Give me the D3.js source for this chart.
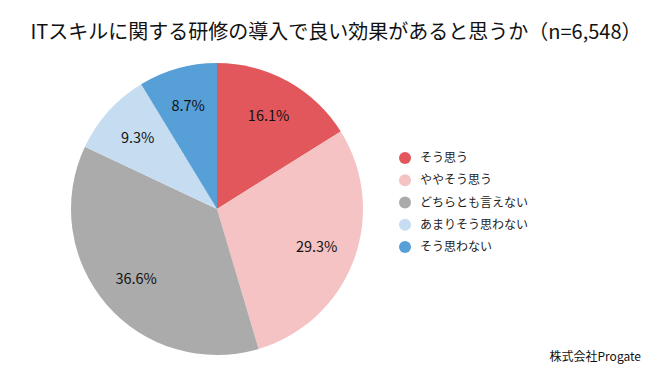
<!DOCTYPE html>
<html><head><meta charset="utf-8">
<script src="https://cdn.jsdelivr.net/npm/d3@7"></script>
<style>body{margin:0;background:#fff}svg{display:block}text{font-family:"Noto Sans CJK JP","Noto Sans",sans-serif}</style>
</head><body><svg id="c" width="669" height="384"></svg>
<script>
const categories = ["そう思う","ややそう思う","どちらとも言えない","あまりそう思わない","そう思わない"];
const values = [16.1, 29.3, 36.6, 9.3, 8.7];
const colors = ["#e2575c","#f5c3c4","#ababab","#c6ddf1","#579fd7"];
const title = "ITスキルに関する研修の導入で良い効果があると思うか（n=6,548）";
const source = "株式会社Progate";

const svg = d3.select("#c");
svg.append("text").attr("x",336).attr("y",39).attr("text-anchor","middle")
  .attr("font-size",20).attr("fill","#111").text(title);

const cx=217, cy=209, R=146;
const pie = d3.pie().sort(null).value(d=>d)(values);
const arc = d3.arc().innerRadius(0).outerRadius(R);
const lab = d3.arc().innerRadius(R*0.73).outerRadius(R*0.73);
const g = svg.append("g").attr("transform",`translate(${cx},${cy})`);
g.selectAll("path").data(pie).join("path").attr("d",arc).attr("fill",(d,i)=>colors[i]);
g.selectAll("text").data(pie).join("text")
  .attr("transform",d=>`translate(${lab.centroid(d)})`)
  .attr("text-anchor","middle").attr("dy","0.35em").attr("font-size",14.5).attr("fill","#111")
  .text(d=>d.data.toFixed(1)+"%");

const y = d3.scalePoint().domain(categories).range([158,247]);
const lg = svg.append("g");
lg.selectAll("circle").data(categories).join("circle")
  .attr("cx",405).attr("cy",d=>y(d)).attr("r",6).attr("fill",(d,i)=>colors[i]);
lg.selectAll("text").data(categories).join("text")
  .attr("x",420).attr("y",d=>y(d)).attr("dy","0.35em").attr("font-size",12).attr("fill","#222").text(d=>d);

svg.append("text").attr("x",641).attr("y",361).attr("text-anchor","end")
  .attr("font-size",12).attr("fill","#111").text(source);
</script></body></html>
